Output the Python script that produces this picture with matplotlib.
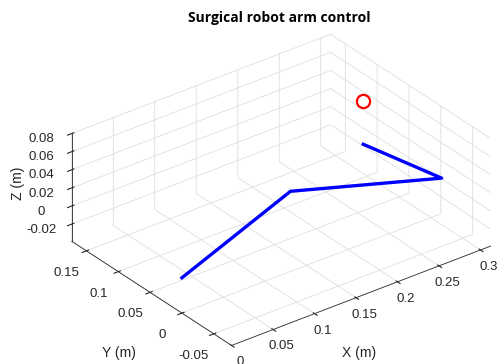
import matplotlib.pyplot as plt
import numpy as np
from matplotlib.ticker import FuncFormatter

# joint positions of the arm (m)
arm_x = [0.0, 0.183, 0.313, 0.293]
arm_y = [0.0, 0.068, 0.0, 0.097]
arm_z = [0.0, 0.0, 0.0, 0.0]

# target point
target = [0.293, 0.097, 0.048]

x_ticks = [0, 0.05, 0.1, 0.15, 0.2, 0.25, 0.3]
y_ticks = [-0.05, 0, 0.05, 0.1, 0.15]
z_ticks = [-0.02, 0, 0.02, 0.04, 0.06, 0.08]

xlim = (0.0, 0.312)
ylim = (-0.078, 0.173)
zlim = (-0.039, 0.081)

plt.rcParams["font.family"] = ["Liberation Sans", "DejaVu Sans"]
grid_c = "#dedede"
axis_c = "#262626"

fig = plt.figure(figsize=(5.01, 3.64), dpi=100)
ax = fig.add_axes([0.0513, -0.0338, 1.0, 1.0], projection="3d", proj_type="ortho")
ax.view_init(elev=30, azim=-127.5)

ax.plot(arm_x, arm_y, arm_z, color="blue", linewidth=2.4)
ax.plot([target[0]], [target[1]], [target[2]], marker="o", markersize=9.5,
        markerfacecolor="none", markeredgecolor="red", markeredgewidth=1.6)

ax.set_xlim(*xlim)
ax.set_ylim(*ylim)
ax.set_zlim(*zlim)
ax.set_box_aspect((xlim[1] - xlim[0], ylim[1] - ylim[0], zlim[1] - zlim[0]), zoom=1.166)

ax.set_xticks(x_ticks)
ax.set_yticks(y_ticks)
ax.set_zticks(z_ticks)
fmt = FuncFormatter(lambda v, p: "%g" % round(v, 4))
for a in (ax.xaxis, ax.yaxis, ax.zaxis):
    a.set_major_formatter(fmt)
    a.set_pane_color((1, 1, 1, 0))
    a.pane.set_edgecolor(grid_c)
    a._axinfo["grid"]["color"] = grid_c
    a._axinfo["grid"]["linewidth"] = 0.6
    a._axinfo["axisline"]["color"] = axis_c
    a._axinfo["tick"]["color"] = axis_c
    a.line.set_color(axis_c)
    a.line.set_linewidth(0.6)

ax.tick_params(labelsize=9.5, colors=axis_c)
ax.tick_params(axis="x", pad=-1)
ax.tick_params(axis="y", pad=2.5)
ax.tick_params(axis="z", pad=2)

# axis labels placed as in the reference (kept horizontal / vertical)
fig.text(0.717, 0.03, "X (m)", ha="center", va="center", fontsize=10, color=axis_c)
fig.text(0.238, 0.03, "Y (m)", ha="center", va="center", fontsize=10, color=axis_c)
fig.text(0.035, 0.497, "Z (m)", ha="center", va="center", fontsize=10,
         color=axis_c, rotation=90)

fig.text(0.557, 0.95, "Surgical robot arm control", ha="center", va="center",
         fontsize=10, fontweight="bold", family="Open Sans")

fig.savefig("out.png", dpi=100)
